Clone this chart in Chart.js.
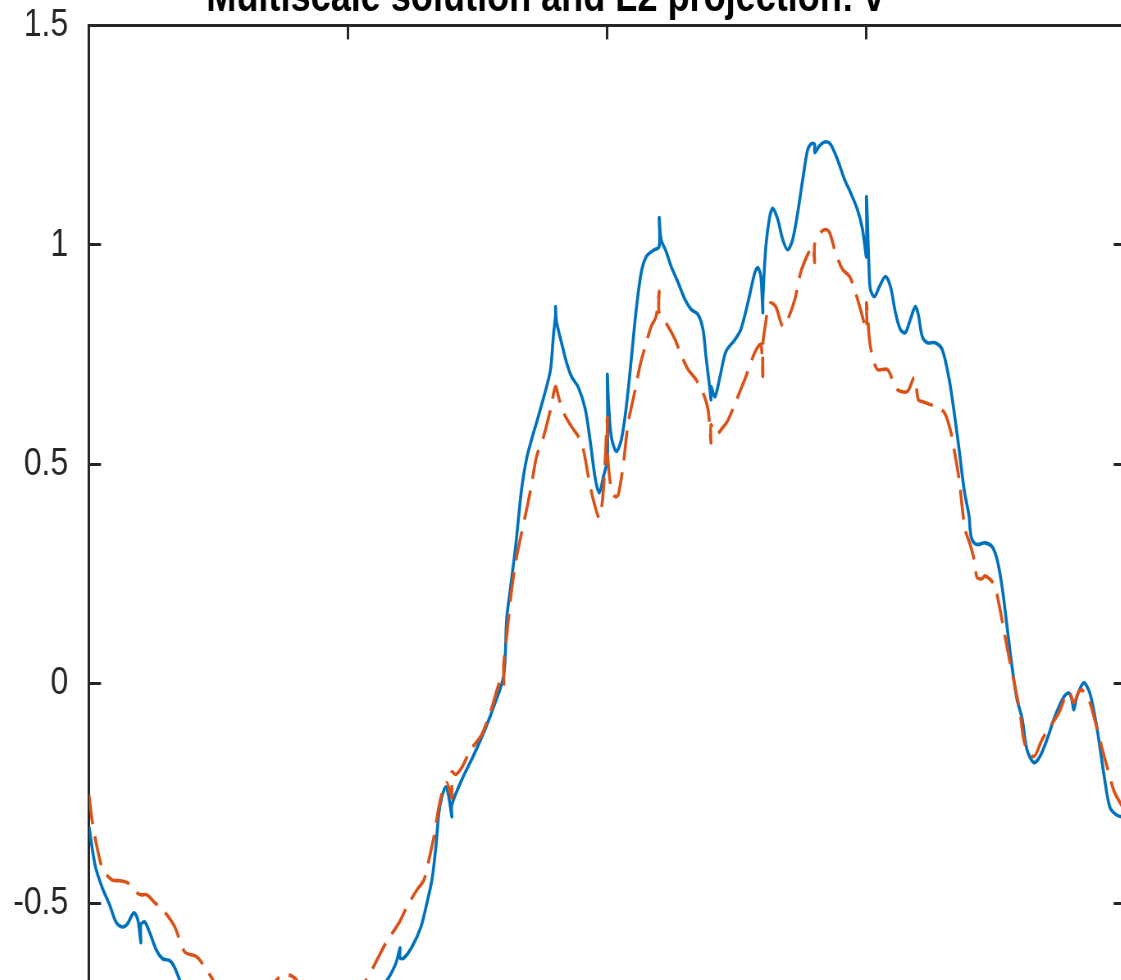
<!DOCTYPE html>
<html>
<head>
<meta charset="utf-8">
<script src="https://cdn.jsdelivr.net/npm/chart.js@4.4.1/dist/chart.umd.min.js"></script>
<style>
html,body{margin:0;padding:0;overflow:hidden;background:#fff;width:1121px;height:980px;}
#wrap{position:absolute;left:-60px;top:-37.6px;width:1476px;height:1224px;transform:scaleX(0.82);transform-origin:0 0;}
canvas{display:block;}
</style>
</head>
<body>
<div id="wrap"><canvas id="c" width="1476" height="1224"></canvas></div>
<script>
// ---- data (x in [0,1]) ----
const chartTitle = 'Multiscale solution and L2 projection: v';
const seriesNames = ['Multiscale solution', 'L2 projection'];
const yTickValues = [-1, -0.5, 0, 0.5, 1, 1.5];
const yTickLabels = ['-1', '-0.5', '0', '0.5', '1', '1.5'];

const xBlue = [0,0.006,0.0125,0.0202,0.026,0.0317,0.0365,0.0433,0.0471,0.05,
0.05,0.0538,0.0587,0.0654,0.0712,0.0779,0.0827,0.0875,0.1,0.121,
0.15,0.179,0.208,0.237,0.265,0.2875,0.2942,0.2971,0.3,0.3,
0.3038,0.3115,0.3202,0.326,0.3308,0.3346,0.3375,0.3404,0.3442,0.3471,
0.35,0.35,0.3596,0.3712,0.3827,0.3904,0.4,0.4029,0.4067,0.4115,
0.4173,0.4221,0.4269,0.4337,0.4404,0.4452,0.4481,0.45,0.45,0.451,
0.4558,0.4606,0.4654,0.4721,0.4788,0.4837,0.4885,0.4923,0.4962,0.5,
0.5,0.501,0.5038,0.5087,0.5135,0.5183,0.5231,0.5279,0.5327,0.5375,
0.5442,0.55,0.55,0.5519,0.5567,0.5615,0.5683,0.575,0.5808,0.5875,
0.5923,0.5952,0.599,0.6,0.6,0.6038,0.6087,0.6144,0.6231,0.6288,
0.6356,0.6423,0.6452,0.6481,0.65,0.65,0.6529,0.6567,0.6596,0.6644,
0.6692,0.674,0.6788,0.6837,0.6885,0.6933,0.6971,0.7,0.7,0.7048,
0.7106,0.7154,0.7221,0.7288,0.7346,0.7413,0.7462,0.75,0.75,0.7524,
0.7538,0.7577,0.7625,0.7683,0.7731,0.7779,0.7827,0.7875,0.7923,0.7971,
0.8,0.8038,0.8087,0.8163,0.8231,0.8298,0.8346,0.8394,0.8442,0.849,
0.85,0.8519,0.8567,0.8644,0.8712,0.876,0.8808,0.8856,0.8904,0.8952,
0.9,0.9048,0.9115,0.9173,0.924,0.9317,0.9404,0.9452,0.9481,0.95,
0.9529,0.9596,0.9654,0.9721,0.9788,0.9846,0.9913,1.0];

const yBlue = [-0.326,-0.415,-0.463,-0.506,-0.543,-0.554,-0.549,-0.522,-0.538,-0.590,
-0.549,-0.543,-0.568,-0.609,-0.627,-0.631,-0.647,-0.675,-0.73,-0.79,
-0.82,-0.83,-0.82,-0.79,-0.73,-0.675,-0.647,-0.629,-0.602,-0.625,
-0.625,-0.600,-0.554,-0.499,-0.447,-0.372,-0.294,-0.258,-0.235,-0.258,
-0.303,-0.276,-0.219,-0.162,-0.100,-0.052,0.018,0.148,0.221,0.312,
0.444,0.513,0.556,0.611,0.668,0.716,0.796,0.839,0.859,0.825,
0.777,0.732,0.700,0.675,0.625,0.549,0.465,0.435,0.472,0.511,
0.704,0.647,0.563,0.529,0.556,0.631,0.739,0.853,0.937,0.973,
0.987,0.996,1.062,1.012,0.985,0.951,0.914,0.875,0.853,0.841,
0.807,0.745,0.670,0.647,0.677,0.654,0.700,0.757,0.784,0.807,
0.868,0.937,0.948,0.928,0.846,0.875,0.996,1.065,1.083,1.058,
1.012,0.989,1.012,1.074,1.149,1.217,1.231,1.229,1.210,1.226,
1.235,1.229,1.194,1.149,1.119,1.080,1.035,0.973,1.110,0.948,
0.898,0.882,0.905,0.928,0.905,0.846,0.807,0.800,0.830,0.859,
0.841,0.791,0.777,0.777,0.761,0.693,0.618,0.533,0.442,0.381,
0.351,0.328,0.317,0.321,0.312,0.283,0.221,0.130,0.039,-0.036,
-0.078,-0.150,-0.180,-0.166,-0.128,-0.075,-0.030,-0.021,-0.036,-0.059,
-0.030,0.002,-0.021,-0.098,-0.203,-0.280,-0.299,-0.305];

const xOrange = [0,0.0029,0.0077,0.0135,0.0221,0.0298,0.0375,0.0462,0.05,0.0558,
0.0635,0.0712,0.0827,0.0923,0.1038,0.1115,0.1183,0.1308,0.15,0.1692,
0.1808,0.1904,0.1981,0.2125,0.2317,0.251,0.2673,0.2779,0.2865,0.299,
0.3067,0.3163,0.3231,0.3279,0.3327,0.3375,0.3423,0.3452,0.35,0.35,
0.3538,0.3596,0.3683,0.3788,0.3885,0.3971,0.4,0.4,0.4029,0.4077,
0.4125,0.4173,0.4221,0.426,0.4317,0.4385,0.4452,0.45,0.4529,0.4577,
0.4654,0.4721,0.4769,0.4817,0.4865,0.4923,0.4962,0.5,0.5,0.5038,
0.5077,0.5106,0.5154,0.5202,0.5269,0.5317,0.5365,0.5423,0.5471,0.55,
0.55,0.5587,0.5654,0.5702,0.5779,0.5856,0.5923,0.5971,0.6,0.6,
0.6048,0.6115,0.6163,0.6231,0.6337,0.6423,0.6481,0.65,0.65,0.6529,
0.6548,0.6577,0.6625,0.6692,0.674,0.6808,0.6865,0.6933,0.6981,0.7,
0.7,0.7058,0.7106,0.7144,0.7202,0.7269,0.7337,0.7394,0.7442,0.75,
0.75,0.7529,0.7558,0.7606,0.7702,0.775,0.7798,0.7894,0.7962,0.8,
0.8038,0.8163,0.825,0.8308,0.8346,0.8394,0.8423,0.8452,0.85,0.8538,
0.8567,0.8615,0.8644,0.8731,0.8788,0.8837,0.8885,0.8933,0.8981,0.9029,
0.9115,0.9192,0.9269,0.9356,0.9433,0.9462,0.95,0.9548,0.9577,0.9644,
0.9702,0.9769,0.9837,0.9894,1.0];

const yOrange = [-0.253,-0.310,-0.372,-0.424,-0.447,-0.449,-0.454,-0.476,-0.481,-0.481,
-0.499,-0.515,-0.554,-0.611,-0.622,-0.645,-0.670,-0.72,-0.74,-0.72,
-0.675,-0.663,-0.670,-0.71,-0.73,-0.72,-0.675,-0.629,-0.590,-0.545,
-0.508,-0.470,-0.447,-0.401,-0.349,-0.280,-0.235,-0.226,-0.260,-0.201,
-0.207,-0.191,-0.150,-0.116,-0.055,0.009,-0.005,0.043,0.107,0.214,
0.289,0.344,0.397,0.442,0.517,0.563,0.625,0.677,0.654,0.618,
0.586,0.563,0.533,0.472,0.419,0.378,0.442,0.606,0.533,0.442,
0.426,0.431,0.499,0.595,0.670,0.727,0.768,0.814,0.837,0.894,
0.846,0.814,0.784,0.755,0.716,0.693,0.663,0.625,0.549,0.590,
0.568,0.584,0.600,0.638,0.700,0.755,0.773,0.700,0.773,0.825,
0.853,0.868,0.859,0.814,0.830,0.875,0.937,0.978,0.996,0.960,
1.001,1.028,1.035,1.028,0.982,0.944,0.928,0.891,0.853,0.807,
0.868,0.784,0.745,0.716,0.716,0.693,0.670,0.666,0.698,0.647,
0.643,0.631,0.618,0.579,0.533,0.465,0.403,0.351,0.317,0.283,
0.242,0.239,0.246,0.226,0.169,0.107,0.048,-0.007,-0.066,-0.139,
-0.166,-0.128,-0.098,-0.066,-0.021,-0.021,-0.043,-0.018,-0.014,-0.036,
-0.082,-0.144,-0.203,-0.248,-0.292];

// ---- layout constants (canvas px; canvas is squeezed horizontally by S) ----
const S = 0.82;
const AXIS = '#262626';
const FONT = '"Liberation Sans", Arial, Helvetica, sans-serif';
const TITLE_PAD_TOP = 10, TITLE_PAD_BOTTOM = 0.3;
const PLOT_TOP = 44 * 1.2 + TITLE_PAD_TOP + TITLE_PAD_BOTTOM;
const LEFT_W = (89 + 60) / S;
const RIGHT_W = 1476 - (1129 + 60) / S;
const X_H = 1224 - PLOT_TOP - 2.5 * 439;

const pairs = (xs, ys) => xs.map((x, i) => ({x: x, y: ys[i]}));

Chart.defaults.font.family = FONT;

const gridOpts = (len) => ({drawOnChartArea: false, drawTicks: true, tickLength: len, color: AXIS, lineWidth: 3});
const borderOpts = {display: true, color: AXIS, width: 3};
const yTicksBuild = (s) => { s.ticks = yTickValues.map(v => ({value: v})); };
const yLabel = (v) => { const i = yTickValues.indexOf(v); return i >= 0 ? yTickLabels[i] : ''; };

new Chart(document.getElementById('c'), {
  type: 'line',
  data: {
    datasets: [
      {label: seriesNames[0], data: pairs(xBlue, yBlue), borderColor: '#0072BD', backgroundColor: '#0072BD',
       borderWidth: 3.6, pointRadius: 0, tension: 0.3, fill: false, order: 1, borderJoinStyle: 'round'},
      {label: seriesNames[1], data: pairs(xOrange, yOrange), borderColor: '#D95319', backgroundColor: '#D95319',
       borderWidth: 3.6, borderDash: [30, 12], pointRadius: 0, tension: 0.3, fill: false, order: 0}
    ]
  },
  options: {
    responsive: false,
    animation: false,
    layout: {padding: 0},
    plugins: {
      legend: {display: false},
      tooltip: {enabled: false},
      title: {display: true, text: chartTitle, color: '#000',
              padding: {top: TITLE_PAD_TOP, bottom: TITLE_PAD_BOTTOM},
              font: {family: FONT, size: 44, weight: 'bold', lineHeight: 1.2}}
    },
    scales: {
      x: {type: 'linear', position: 'bottom', min: 0, max: 1,
          ticks: {stepSize: 0.25, color: AXIS, font: {size: 39}},
          grid: gridOpts(-14), border: borderOpts,
          afterFit: (s) => { s.height = X_H; }},
      x2: {type: 'linear', position: 'top', min: 0, max: 1,
          ticks: {display: false, stepSize: 0.25},
          grid: gridOpts(-14), border: borderOpts,
          afterFit: (s) => { s.height = 0; }},
      y: {type: 'linear', position: 'left', min: -1, max: 1.5,
          afterBuildTicks: yTicksBuild,
          ticks: {color: AXIS, padding: 40, font: {size: 39}, callback: yLabel},
          grid: gridOpts(-12 / S), border: borderOpts,
          afterFit: (s) => { s.width = LEFT_W; }},
      y2: {type: 'linear', position: 'right', min: -1, max: 1.5,
          afterBuildTicks: yTicksBuild,
          ticks: {display: false},
          grid: gridOpts(-12 / S), border: borderOpts,
          afterFit: (s) => { s.width = RIGHT_W; }}
    }
  }
});
</script>
</body>
</html>
